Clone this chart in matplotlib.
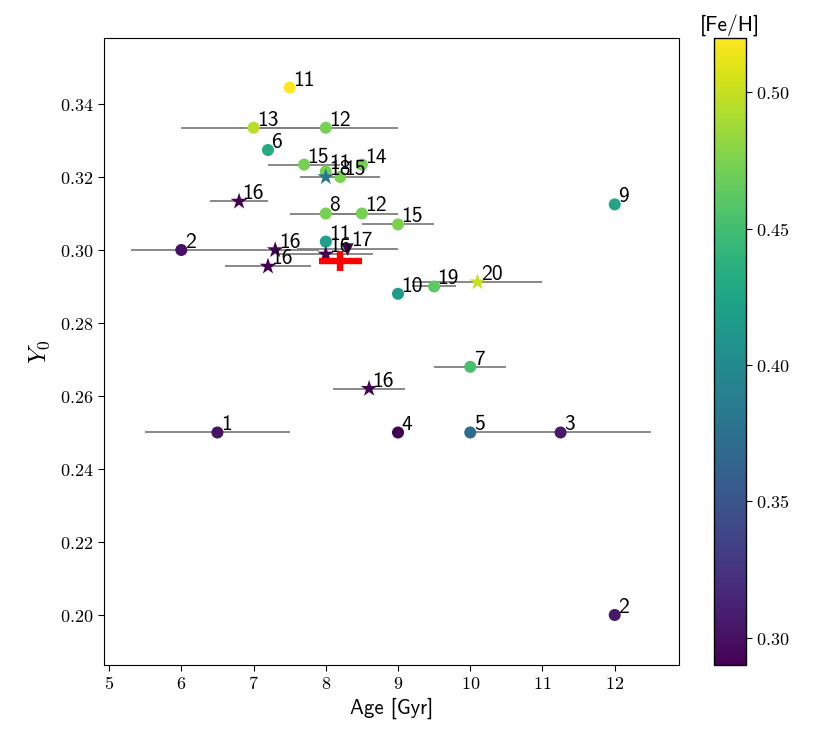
import numpy as np
import matplotlib
matplotlib.use("Agg")
import matplotlib.pyplot as plt
from matplotlib.colors import Normalize
from matplotlib.ticker import FuncFormatter

plt.rcParams['mathtext.fontset'] = 'cm'
SANS = ['cmss10', 'DejaVu Sans']

labels = ["11", "13", "12", "6", "15", "14", "11", "18", "15", "16",
          "8", "12", "15", "2", "16", "17", "11", "16", "16", "10",
          "19", "20", "9", "7", "16", "1", "4", "5", "3", "2"]
ages = [7.5, 7.0, 8.0, 7.2, 7.7, 8.5, 8.0, 8.0, 8.2, 6.8,
        8.0, 8.5, 9.0, 6.0, 7.3, 8.3, 8.0, 8.0, 7.2, 9.0,
        9.5, 10.1, 12.0, 10.0, 8.6, 6.5, 9.0, 10.0, 11.25, 12.0]
age_errs = [0, 1.0, 1.0, 0, 0.5, 0, 0, 0, 0.55, 0.4,
            0.5, 0.5, 0.5, 0.7, 0.6, 0.7, 0, 0.65, 0.6, 0,
            0.3, 0.9, 0, 0.5, 0.5, 1.0, 0, 0, 1.25, 0]
y0s = [0.3445, 0.3335, 0.3335, 0.3274, 0.3234, 0.3234, 0.3215, 0.3200, 0.3200, 0.3133,
       0.3100, 0.3100, 0.3070, 0.3000, 0.3000, 0.3004, 0.3023, 0.2988, 0.2955, 0.2880,
       0.2900, 0.2912, 0.3125, 0.2680, 0.2620, 0.2500, 0.2500, 0.2500, 0.2500, 0.2000]
fehs = [0.52, 0.495, 0.472, 0.43, 0.472, 0.472, 0.472, 0.38, 0.475, 0.29,
        0.472, 0.472, 0.475, 0.30, 0.29, 0.29, 0.42, 0.29, 0.29, 0.415,
        0.462, 0.50, 0.425, 0.452, 0.29, 0.30, 0.29, 0.37, 0.305, 0.305]
markers = ['o', 'o', 'o', 'o', 'o', 'o', 'o', '*', 'o', '*',
           'o', 'o', 'o', 'o', '*', 'v', 'o', '*', '*', 'o',
           'o', '*', 'o', 'o', '*', 'o', 'o', 'o', 'o', 'o']

target_age, target_age_err = 8.2, 0.3
target_y0, target_y0_err = 0.297, 0.0027

xticks = [5, 6, 7, 8, 9, 10, 11, 12]
yticks = [0.20, 0.22, 0.24, 0.26, 0.28, 0.30, 0.32, 0.34]
cticks = [0.30, 0.35, 0.40, 0.45, 0.50]

fig = plt.figure(figsize=(8.3, 7.47), dpi=100)
ax = fig.add_axes([0.1253, 0.1098, 0.6928, 0.8394])
cax = fig.add_axes([0.8602, 0.1098, 0.0386, 0.8394])

norm = Normalize(vmin=0.29, vmax=0.52)
cmap = plt.get_cmap('viridis')

ages_a = np.array(ages)
errs_a = np.array(age_errs)
y_a = np.array(y0s)
feh_a = np.array(fehs)
mk_a = np.array(markers)

has_err = errs_a > 0
ax.errorbar(ages_a[has_err], y_a[has_err], xerr=errs_a[has_err], fmt='none',
            ecolor='#808080', elinewidth=1.3, zorder=1)

sizes = {'o': 75, '*': 160, 'v': 80}
for m in ['o', '*', 'v']:
    sel = mk_a == m
    ax.scatter(ages_a[sel], y_a[sel], c=feh_a[sel], cmap=cmap, norm=norm,
               marker=m, s=sizes[m], linewidths=0, zorder=2)

for lab, xa, ya in zip(labels, ages, y0s):
    ax.annotate(lab, (xa, ya), xytext=(2.5, 1.5),
                textcoords='offset points', ha='left', va='baseline',
                fontsize=15.5, color='black', zorder=3, family=SANS)

ax.errorbar([target_age], [target_y0], xerr=[target_age_err], yerr=[target_y0_err],
            fmt='none', ecolor='red', elinewidth=4.6, zorder=4)

ax.set_xlim(4.93, 12.89)
ax.set_ylim(0.1863, 0.3581)
ax.set_xticks(xticks)
ax.set_yticks(yticks)
ax.xaxis.set_major_formatter(FuncFormatter(lambda v, p: r"$%d$" % round(v)))
ax.yaxis.set_major_formatter(FuncFormatter(lambda v, p: r"$%.2f$" % v))
ax.tick_params(labelsize=13, length=4)
ax.set_xlabel("Age [Gyr]", fontsize=15, labelpad=3, family=SANS)
ax.set_ylabel(r"$Y_0$", fontsize=18, labelpad=6)

cb = fig.colorbar(plt.cm.ScalarMappable(norm=norm, cmap=cmap), cax=cax)
cb.set_ticks(cticks)
cb.ax.yaxis.set_major_formatter(FuncFormatter(lambda v, p: r"$%.2f$" % v))
cb.ax.tick_params(labelsize=13, length=4)
cb.outline.set_linewidth(1.0)
cax.set_title("[Fe/H]", fontsize=15.5, pad=5, family=SANS)

fig.savefig("out.png", dpi=100)
